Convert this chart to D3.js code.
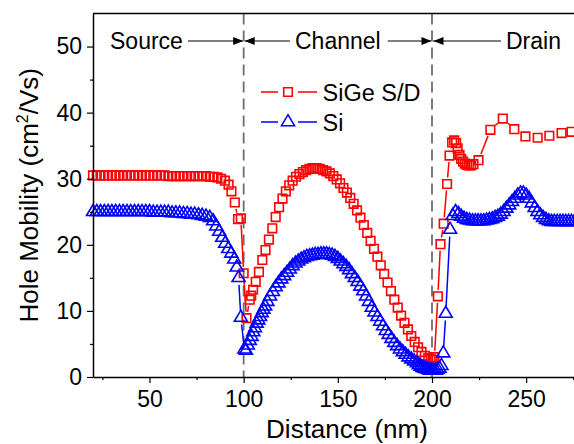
<!DOCTYPE html>
<html>
<head>
<meta charset="utf-8">
<script src="https://cdn.jsdelivr.net/npm/d3@7"></script>
<style>
  body { margin: 0; background: #fff; }
  svg { display: block; font-family: "Liberation Sans", Arial, sans-serif; }
</style>
</head>
<body>
<script>
// ---- data ----
const sigeDistance = [
  20, 22, 24, 26, 28, 30, 32, 34, 36, 38,
  40, 42, 44, 46, 48, 50, 52, 54, 56, 58,
  60, 62, 64, 66, 68, 70, 72, 74, 76, 78,
  80, 82, 84, 86, 88, 90, 92, 93.5, 95.3, 97,
  98.5, 100, 101.5, 103.2, 104, 105, 106.4, 108.1, 109.9, 111.6,
  113.4, 115.2, 117, 118.8, 120.6, 122.4, 124.2, 126, 127.8, 129.6,
  131.4, 133.2, 135, 136.8, 138.6, 140.4, 142.2, 144, 145.8, 147.6,
  149.4, 151.2, 153, 154.8, 156.6, 158.4, 160.2, 162, 163.8, 165.6,
  167.4, 169.2, 171, 172.8, 174.6, 176.4, 178.2, 180, 181.8, 183.6,
  185.4, 187.2, 189, 190.8, 192.6, 194.4, 196.2, 198, 199.3, 200.3,
  201.3, 203.1, 204.5, 206.2, 208, 209.3, 210.7, 211.8, 212.8,
  213.6, 214.6, 215.5, 216.5, 217.5, 218.5, 219.6, 220.8, 222, 224.7,
  231, 237.6, 243.7, 249.6, 256.1, 262.3, 268.8, 274.1, 280
];
const sigeMobility = [
  30.5, 30.5, 30.5, 30.5, 30.5, 30.5, 30.5, 30.5, 30.5, 30.5,
  30.5, 30.5, 30.5, 30.5, 30.5, 30.5, 30.5, 30.5, 30.5, 30.5,
  30.4, 30.4, 30.4, 30.4, 30.4, 30.4, 30.4, 30.4, 30.4, 30.4,
  30.4, 30.3, 30.3, 30.2, 30.0, 29.7, 29.1, 28.1, 26.4, 23.9,
  24.0, 15.7, 8.9, 11.7, 12.3, 13.2, 14.4, 15.9, 17.7, 19.2,
  20.8, 22.5, 24.2, 25.7, 27.0, 28.1, 29.0, 29.7, 30.3, 30.7,
  31.0, 31.3, 31.5, 31.6, 31.6, 31.5, 31.3, 31.1, 30.8, 30.4,
  29.9, 29.3, 28.6, 27.9, 27.1, 26.2, 25.2, 24.1, 23.0, 21.8,
  20.6, 19.4, 18.2, 16.9, 15.6, 14.3, 13.0, 11.7, 10.5, 9.3,
  8.2, 7.2, 6.2, 5.3, 4.5, 3.8, 3.2, 2.9, 2.7, 2.6,
  3.0, 12.2, 20.1, 23.2, 29.2, 33.5, 35.5, 35.8, 35.4,
  34.6, 33.6, 33.0, 32.6, 32.3, 32.1, 32.0, 32.0, 32.2, 32.8,
  37.4, 39.1, 37.5, 36.4, 36.2, 36.5, 36.9, 37.1, 37.3
];

const siDistance = [
  20, 22, 24, 26, 28, 30, 32, 34, 36, 38,
  40, 42, 44, 46, 48, 50, 52, 54, 56, 58,
  60, 62, 64, 66, 68, 70, 72, 74, 76, 78,
  80, 82, 83.8, 85.4, 87, 88.6, 90.2, 91.8, 93.4, 95,
  96.3, 97.3, 98.5, 100.4, 101.2, 102.2, 103.2, 104.2, 105.1, 106,
  106.9, 107.8, 108.7, 109.6, 110.5, 111.4, 112.6, 114, 115.5, 117,
  118.5, 120, 121.5, 123, 124.5, 126, 127.5, 129, 130.5, 132,
  133.5, 135, 136.5, 138, 139.5, 141, 142.5, 144, 145.5, 147,
  148.5, 150, 151.5, 153, 154.5, 156, 157.5, 159, 160.5, 162,
  163.5, 165, 166.5, 168, 169.5, 171, 172.5, 174, 175.5, 177,
  178.5, 180, 181.5, 183, 184.5, 186, 187.5, 189, 190.5, 192,
  193, 194, 195, 196, 197, 198, 199, 200, 201, 202,
  203, 204, 205, 206, 207.3, 209.6, 211, 212.5, 214,
  215.5, 217, 218.5, 220, 221.5, 223, 224.5, 226, 227.5, 229,
  230.5, 232, 233.5, 235, 236.5, 238, 239.5, 241, 242.5, 244,
  245.5, 247, 248.5, 250, 251.5, 253, 254.5, 256, 257.5, 259,
  260.5, 262, 263.5, 265, 266.5, 268, 269.5, 271, 272.5, 274,
  275.5, 277, 278.5, 280
];
const siMobility = [
  25.0, 25.0, 25.0, 25.0, 25.0, 25.0, 25.0, 25.0, 25.0, 25.0,
  25.0, 25.0, 25.0, 25.0, 25.0, 25.0, 24.9, 24.9, 24.9, 24.9,
  24.9, 24.8, 24.8, 24.8, 24.7, 24.7, 24.6, 24.6, 24.5, 24.4,
  24.3, 24.1, 23.6, 22.8, 22.0, 21.1, 20.2, 19.4, 18.7, 17.8,
  16.6, 15.0, 9.0, 4.2, 4.0, 4.8, 5.5, 6.1, 6.8, 7.4,
  8.1, 8.6, 9.1, 9.7, 10.2, 10.7, 11.4, 12.2, 12.9, 13.6,
  14.2, 14.8, 15.3, 15.8, 16.3, 16.8, 17.2, 17.5, 17.8, 18.0,
  18.2, 18.3, 18.4, 18.5, 18.5, 18.6, 18.6, 18.6, 18.5, 18.4,
  18.2, 17.9, 17.5, 17.1, 16.7, 16.2, 15.6, 15.0, 14.4, 13.7,
  13.0, 12.2, 11.4, 10.5, 9.8, 9.1, 8.4, 7.7, 7.0, 6.4,
  5.8, 5.2, 4.7, 4.2, 3.8, 3.4, 3.0, 2.7, 2.4, 2.1,
  1.8, 1.6, 1.4, 1.3, 1.2, 1.1, 1.0, 1.0, 1.0, 1.0,
  1.1, 1.3, 1.7, 3.6, 9.6, 22.3, 24.4, 25.0, 24.7,
  24.3, 24.0, 23.8, 23.7, 23.6, 23.6, 23.6, 23.6, 23.6, 23.7,
  23.8, 23.9, 24.1, 24.3, 24.6, 25.0, 25.5, 26.0, 26.5, 27.0,
  27.5, 27.8, 27.8, 27.5, 27.0, 26.3, 25.6, 25.0, 24.5, 24.1,
  23.8, 23.6, 23.5, 23.5, 23.5, 23.5, 23.5, 23.5, 23.5, 23.5,
  23.5, 23.5, 23.5, 23.5
];

const xTicks = [50, 100, 150, 200, 250];
const xMinorTicks = [25, 75, 125, 175, 225, 275];
const yTicks = [0, 10, 20, 30, 40, 50];
const yMinorTicks = [5, 15, 25, 35, 45];
const regionNames = ["Source", "Channel", "Drain"];
const boundaries = [100, 200];
const seriesNames = ["SiGe S/D", "Si"];
const seriesColors = ["#ff0000", "#0000ff"];

// ---- layout ----
const width = 574, height = 444;
const margin = { top: 13.5, left: 93 };
const plotW = 508.5, plotH = 363.5;

const svg = d3.select("body").append("svg")
  .attr("width", width)
  .attr("height", height);

const g = svg.append("g")
  .attr("transform", "translate(" + margin.left + "," + margin.top + ")");

const x = d3.scaleLinear().domain([20, 290]).range([0, plotW]);
const y = d3.scaleLinear().domain([0, 55]).range([plotH, 0]);

// dashed boundaries
g.selectAll(".bound")
  .data(boundaries)
  .enter().append("line")
  .attr("x1", d => x(d)).attr("x2", d => x(d))
  .attr("y1", 0).attr("y2", plotH)
  .attr("stroke", "#6e6e6e")
  .attr("stroke-width", 1.8)
  .attr("stroke-dasharray", "11,6");

// line with gaps round the markers (Origin style)
function drawSeries(xs, vs, color, gap, marker) {
  const pts = xs.map((d, i) => [x(d), y(vs[i])]);
  const segs = [];
  for (let i = 1; i < pts.length; i++) {
    const [x1, y1] = pts[i - 1], [x2, y2] = pts[i];
    const dx = x2 - x1, dy = y2 - y1, len = Math.hypot(dx, dy);
    if (len <= 2 * gap) continue;
    const ux = dx / len, uy = dy / len;
    segs.push([x1 + ux * gap, y1 + uy * gap, x2 - ux * gap, y2 - uy * gap]);
  }
  g.append("g").selectAll("line")
    .data(segs)
    .enter().append("line")
    .attr("x1", d => d[0]).attr("y1", d => d[1])
    .attr("x2", d => d[2]).attr("y2", d => d[3])
    .attr("stroke", color)
    .attr("stroke-width", 1.5);

  g.append("g").selectAll("path")
    .data(pts)
    .enter().append("path")
    .attr("d", marker)
    .attr("transform", d => "translate(" + d[0] + "," + d[1] + ")")
    .attr("fill", "none")
    .attr("stroke", color)
    .attr("stroke-width", 1.6);
}

const squarePath = "M-4.3,-4.3H4.3V4.3H-4.3Z";
const trianglePath = "M0,-7.3L6.5,3.7L-6.5,3.7Z";

drawSeries(sigeDistance, sigeMobility, seriesColors[0], 6.5, squarePath);
drawSeries(siDistance, siMobility, seriesColors[1], 7, trianglePath);

// axes
g.append("g")
  .attr("transform", "translate(0," + plotH + ")")
  .call(d3.axisBottom(x).tickValues(xTicks).tickSize(6).tickSizeOuter(0).tickPadding(8));
g.append("g")
  .attr("transform", "translate(0," + plotH + ")")
  .call(d3.axisBottom(x).tickValues(xMinorTicks).tickSize(3).tickFormat(""))
  .select(".domain").remove();

g.append("g")
  .call(d3.axisLeft(y).tickValues(yTicks).tickSize(6).tickSizeOuter(0).tickPadding(5));
g.append("g")
  .call(d3.axisLeft(y).tickValues(yMinorTicks).tickSize(3).tickFormat(""))
  .select(".domain").remove();

g.selectAll(".domain").attr("stroke", "#000").attr("stroke-width", 1.5);
g.selectAll(".tick line").attr("stroke", "#000").attr("stroke-width", 1.2);
g.selectAll(".tick text")
  .attr("fill", "#000")
  .style("font-family", "'Liberation Sans', Arial, sans-serif")
  .style("font-size", "23px");

// top frame
g.append("line")
  .attr("x1", 0).attr("x2", plotW)
  .attr("y1", 0).attr("y2", 0)
  .attr("stroke", "#000").attr("stroke-width", 1.5);

// axis titles
svg.append("text")
  .attr("x", 347).attr("y", 438)
  .attr("text-anchor", "middle")
  .style("font-size", "26px")
  .text("Distance (nm)");

const yTitle = svg.append("text")
  .attr("transform", "translate(38," + (margin.top + plotH / 2) + ") rotate(-90)")
  .attr("text-anchor", "middle")
  .style("font-size", "26px");
yTitle.append("tspan").text("Hole Mobility (cm");
yTitle.append("tspan").attr("dy", -10).style("font-size", "16px").text("2");
yTitle.append("tspan").attr("dy", 10).text("/Vs)");

// region labels with arrows
const arrowY = 41;
function arrowHead(tip, dir) {
  svg.append("path")
    .attr("d", "M" + tip + "," + arrowY + "L" + (tip - dir * 10) + "," + (arrowY - 4) +
      "L" + (tip - dir * 10) + "," + (arrowY + 4) + "Z")
    .attr("fill", "#000");
}
function arrowLine(x1, x2) {
  svg.append("line")
    .attr("x1", x1).attr("x2", x2)
    .attr("y1", arrowY).attr("y2", arrowY)
    .attr("stroke", "#000").attr("stroke-width", 1.1);
}
const labelStarts = [110, 295, 506];
const bx = boundaries.map(d => margin.left + x(d));
const labelEnds = regionNames.map((name, i) => {
  const t = svg.append("text")
    .attr("x", labelStarts[i]).attr("y", 49)
    .style("font-size", "23px")
    .text(name);
  return [labelStarts[i], labelStarts[i] + t.node().getComputedTextLength()];
});
// Source -> |
arrowLine(labelEnds[0][1] + 5, bx[0] - 1);
arrowHead(bx[0] - 0.5, 1);
// | <- Channel -> |
arrowLine(bx[0] + 1, labelEnds[1][0] - 5);
arrowHead(bx[0] + 1, -1);
arrowLine(labelEnds[1][1] + 7, bx[1] - 1);
arrowHead(bx[1] - 0.5, 1);
// | <- Drain
arrowLine(bx[1] + 1, labelEnds[2][0] - 5);
arrowHead(bx[1] + 1.5, -1);

// legend
const legendRows = [92, 122];
const markers = [squarePath, trianglePath];
seriesNames.forEach((name, i) => {
  const ly = legendRows[i];
  svg.append("line").attr("x1", 261).attr("x2", 278).attr("y1", ly).attr("y2", ly)
    .attr("stroke", seriesColors[i]).attr("stroke-width", 1.5);
  svg.append("line").attr("x1", 298).attr("x2", 317).attr("y1", ly).attr("y2", ly)
    .attr("stroke", seriesColors[i]).attr("stroke-width", 1.5);
  svg.append("path").attr("d", markers[i])
    .attr("transform", "translate(288," + ly + ")")
    .attr("fill", "none").attr("stroke", seriesColors[i]).attr("stroke-width", 1.6);
  svg.append("text")
    .attr("x", 322.5).attr("y", ly + 8.5)
    .style("font-size", "23.5px")
    .text(name);
});
</script>
</body>
</html>
